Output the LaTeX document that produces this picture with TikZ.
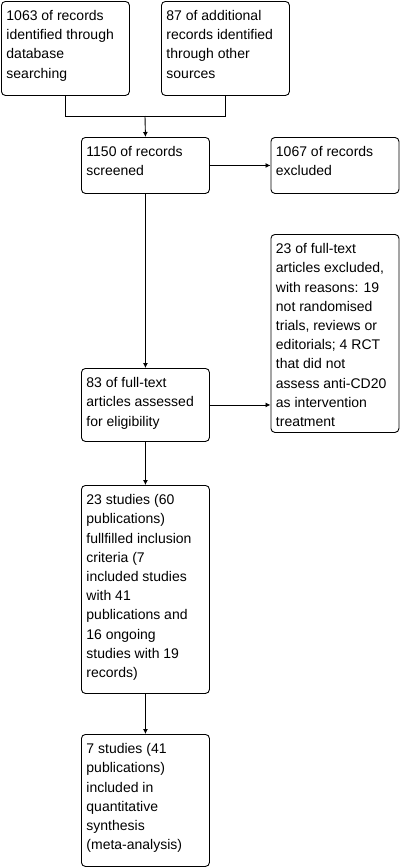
\documentclass[tikz,border=0pt]{standalone}
\usepackage{fontspec}
\setmainfont{Liberation Sans}
\usetikzlibrary{arrows.meta}
\newcommand{\bxt}[2]{\parbox[c][#1][t]{118pt}{\fontsize{14pt}{19.2pt}\selectfont\raggedright\vspace*{9pt}#2}}
\tikzset{
  flowbox/.style={draw, line width=0.9pt, rounded corners=4pt, anchor=north west, inner xsep=5pt, inner ysep=0pt, align=left},
  link/.style={line width=0.9pt},
  arr/.style={line width=0.9pt, -{Latex[length=5pt,width=5pt]}}
}
\begin{document}
\begin{tikzpicture}[x=1pt,y=-1pt]
\useasboundingbox (0,0) rectangle (400,868);
\node[flowbox] (A) at (1,1) {\bxt{94pt}{1063 of records\\identified through\\database\\searching}};
\node[flowbox] (B) at (161,1) {\bxt{94pt}{87 of additional\\records identified\\through other\\sources}};
\node[flowbox] (C) at (81,137) {\bxt{56pt}{1150 of records\\screened}};
\node[flowbox] (D) at (270.5,137) {\bxt{56pt}{1067 of records\\excluded}};
\node[flowbox] (F) at (270.5,234) {\bxt{198pt}{23 of full-text\\articles excluded,\\with reasons: 19\\not randomised\\trials, reviews or\\editorials; 4 RCT\\that did not\\assess anti-CD20\\as intervention\\treatment}};
\node[flowbox] (E) at (81,368) {\bxt{73pt}{83 of full-text\\articles assessed\\for eligibility}};
\node[flowbox] (G) at (81,485) {\bxt{208pt}{23 studies (60\\publications)\\fullfilled inclusion\\criteria (7\\included studies\\with 41\\publications and\\16 ongoing\\studies with 19\\records)}};
\node[flowbox] (H) at (81,734) {\bxt{132pt}{7 studies (41\\publications)\\included in\\quantitative\\synthesis\\(meta-analysis)}};
\coordinate (j) at (145,116);
\draw[link] (A.south) |- (j);
\draw[link] (B.south) |- (j);
\draw[arr] (j) -- (C.north);
\draw[arr] (C.east) -- (C.east -| D.west);
\draw[arr] (C.south) -- (E.north);
\draw[arr] (E.east) -- (E.east -| F.west);
\draw[arr] (E.south) -- (G.north);
\draw[arr] (G.south) -- (H.north);
\end{tikzpicture}
\end{document}
